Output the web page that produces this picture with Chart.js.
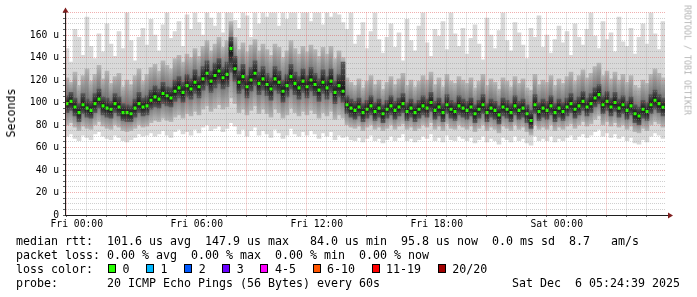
<!DOCTYPE html>
<html>
<head>
<meta charset="utf-8">
<title>median rtt</title>
<script src="https://cdn.jsdelivr.net/npm/chart.js@4.4.1/dist/chart.umd.min.js"></script>
<style>
  html, body { margin: 0; padding: 0; background: #fff; }
  #wrap { position: relative; width: 697px; height: 297px; overflow: hidden; background: #fff; }
  #chart { position: absolute; left: 0; top: 0; }
  .txt {
    position: absolute;
    font-family: 'DejaVu Sans Mono', monospace;
    font-size: 11.63px;
    line-height: 14px;
    white-space: pre;
    color: #000;
  }
  .box { position: absolute; width: 6px; height: 7px; border: 1px solid #000; }
  #ylabel { left: 11px; top: 113px; transform: translate(-50%, -50%) rotate(-90deg); }
  #watermark {
    left: 687px; top: 60px; font-size: 8.3px; line-height: 9px; color: #b4b4b4;
    transform: translate(-50%, -50%) rotate(90deg);
  }
</style>
</head>
<body>
<div id="wrap">
  <canvas id="chart" width="697" height="297"></canvas>
  <div class="txt" id="ylabel">Seconds</div>
  <div class="txt" id="watermark">RRDTOOL / TOBI OETIKER</div>
  <div id="footer"></div>
</div>
<script>
// --- datos (microsegundos), una columna cada 12 minutos ---
const startHour = -0.589;   // Thu 23:24:39 relative to Fri 00:00
const stepHours = 0.2;

const median = [
  99, 101, 96, 91, 98, 95, 93, 99, 103, 97,
  95, 94, 99, 96, 91, 91, 90, 95, 99, 96,
  97, 102, 105, 103, 108, 106, 104, 110, 113, 109,
  115, 112, 118, 114, 121, 126, 119, 124, 128, 122,
  125, 147.9, 130, 118, 123, 114, 120, 126, 117, 121,
  116, 112, 121, 118, 110, 115, 123, 117, 113, 119,
  114, 120, 116, 111, 118, 113, 119, 109, 115, 110,
  98, 95, 93, 96, 91, 94, 97, 92, 95, 90,
  94, 97, 93, 96, 99, 92, 95, 91, 94, 97,
  95, 100, 93, 96, 91, 98, 94, 92, 97, 95,
  93, 96, 90, 94, 98, 91, 95, 93, 89, 96,
  94, 91, 97, 93, 95, 90, 84, 98, 92, 95,
  93, 97, 91, 95, 92, 96, 99, 94, 97, 101,
  96, 99, 104, 107, 98, 101, 96, 100, 95, 98,
  93, 97, 90, 88, 94, 92, 98, 102, 99, 95.8
];

// smoke: outer envelope (fastest / slowest ping)
const rttMin = [
  70, 72, 68, 66, 71, 69, 67, 72, 74, 70,
  68, 67, 71, 69, 66, 65, 67, 69, 72, 70,
  71, 73, 70, 72, 75, 71, 69, 74, 76, 72,
  74, 71, 76, 73, 78, 80, 75, 77, 79, 74,
  77, 82, 79, 72, 76, 70, 75, 78, 71, 75,
  72, 69, 76, 73, 68, 71, 77, 72, 70, 74,
  71, 75, 72, 68, 73, 70, 74, 67, 71, 69,
  70, 67, 66, 69, 65, 68, 71, 66, 68, 64,
  67, 70, 66, 69, 72, 66, 68, 65, 67, 70,
  68, 72, 66, 69, 65, 71, 67, 66, 70, 68,
  66, 69, 64, 67, 70, 65, 68, 66, 63, 69,
  67, 65, 70, 66, 68, 64, 62, 70, 66, 68,
  66, 70, 65, 68, 66, 69, 71, 67, 70, 72,
  69, 71, 74, 76, 70, 73, 69, 72, 68, 70,
  66, 69, 64, 63, 67, 65, 70, 73, 71, 68
];
const rttMax = [
  148, 136, 165, 158, 142, 176, 150, 139, 161, 145,
  170, 152, 141, 163, 148, 180, 155, 137, 158, 166,
  151, 174, 160, 146, 169, 180, 157, 163, 172, 150,
  178, 165, 180, 171, 160, 180, 175, 168, 180, 162,
  180, 180, 173, 166, 180, 177, 158, 180, 170, 180,
  176, 180, 180, 168, 180, 174, 180, 180, 165, 180,
  180, 172, 180, 180, 169, 180, 176, 180, 178, 171,
  165, 180, 152, 160, 171, 148, 163, 180, 156, 144,
  158, 170, 149, 162, 137, 174, 155, 146, 168, 180,
  153, 141, 165, 159, 172, 147, 180, 161, 150, 166,
  143, 157, 169, 152, 138, 175, 160, 148, 164, 180,
  155, 146, 171, 162, 151, 139, 166, 158, 177, 149,
  160, 144, 156, 168, 153, 163, 142, 170, 158, 151,
  165, 180, 159, 148, 172, 156, 162, 145, 176, 154,
  150, 166, 143, 158, 170, 152, 180, 161, 147, 172
];

// smoke: middle band
const rttLo = [
  80, 82, 78, 75, 79, 77, 76, 80, 83, 79,
  77, 76, 80, 78, 75, 74, 75, 77, 80, 78,
  79, 82, 84, 83, 86, 84, 83, 87, 89, 86,
  90, 88, 92, 89, 94, 97, 92, 95, 98, 94,
  96, 104, 99, 91, 94, 89, 93, 97, 90, 94,
  90, 87, 94, 91, 86, 89, 95, 91, 88, 92,
  89, 93, 90, 86, 91, 88, 92, 85, 89, 86,
  80, 78, 77, 79, 75, 78, 80, 76, 78, 75,
  77, 80, 76, 79, 81, 76, 78, 75, 77, 80,
  78, 82, 76, 79, 75, 81, 77, 76, 80, 78,
  76, 79, 74, 77, 80, 75, 78, 76, 73, 79,
  77, 75, 80, 76, 78, 74, 71, 80, 76, 78,
  76, 80, 75, 78, 76, 79, 81, 77, 80, 83,
  79, 81, 85, 88, 80, 83, 79, 82, 78, 80,
  76, 79, 74, 73, 77, 75, 80, 83, 81, 78
];
const rttHi = [
  122, 118, 127, 115, 124, 130, 119, 125, 133, 121,
  128, 117, 123, 126, 114, 120, 116, 124, 130, 119,
  125, 131, 134, 128, 137, 133, 130, 139, 142, 136,
  143, 140, 148, 141, 150, 155, 146, 152, 158, 149,
  155, 172, 158, 147, 153, 145, 151, 156, 146, 152,
  147, 142, 152, 149, 140, 146, 155, 148, 143, 150,
  145, 151, 147, 141, 149, 143, 150, 139, 146, 140,
  122, 118, 115, 121, 113, 119, 124, 116, 120, 112,
  118, 123, 116, 121, 126, 115, 120, 114, 119, 124,
  120, 127, 116, 122, 114, 125, 119, 117, 123, 120,
  117, 122, 113, 119, 125, 115, 121, 118, 112, 122,
  119, 114, 123, 117, 121, 113, 111, 125, 116, 120,
  118, 124, 115, 121, 117, 123, 127, 119, 124, 129,
  122, 126, 132, 135, 124, 128, 121, 127, 120, 125,
  118, 124, 115, 113, 120, 117, 125, 130, 126, 122
];

// smoke: dark core around the median
const coreLo = [
  91, 93, 88, 83, 90, 87, 86, 91, 95, 89,
  87, 86, 91, 88, 84, 83, 83, 87, 91, 88,
  89, 94, 96, 95, 99, 97, 96, 101, 104, 100,
  105, 103, 108, 104, 111, 115, 109, 113, 117, 112,
  114, 127, 119, 108, 112, 104, 110, 115, 107, 111,
  106, 102, 111, 108, 100, 105, 112, 107, 103, 109,
  104, 110, 106, 101, 108, 103, 109, 99, 105, 100,
  90, 87, 85, 88, 83, 86, 89, 84, 87, 82,
  86, 89, 85, 88, 91, 84, 87, 83, 86, 89,
  87, 92, 85, 88, 83, 90, 86, 84, 89, 87,
  85, 88, 82, 86, 90, 83, 87, 85, 81, 88,
  86, 83, 89, 85, 87, 82, 77, 90, 84, 87,
  85, 89, 83, 87, 84, 88, 91, 86, 89, 93,
  88, 91, 96, 99, 90, 93, 88, 92, 87, 90,
  85, 89, 82, 80, 86, 84, 90, 94, 91, 88
];
const coreHi = [
  106, 109, 104, 99, 108, 103, 101, 108, 112, 105,
  104, 101, 108, 105, 99, 98, 97, 103, 109, 104,
  106, 111, 115, 112, 118, 114, 113, 120, 123, 118,
  125, 121, 129, 123, 132, 137, 128, 135, 139, 131,
  136, 158, 141, 128, 134, 124, 131, 137, 127, 132,
  126, 122, 132, 128, 120, 125, 134, 127, 123, 130,
  124, 131, 126, 121, 129, 123, 130, 119, 125, 136,
  106, 103, 101, 104, 99, 102, 106, 100, 103, 98,
  102, 106, 101, 104, 108, 100, 103, 99, 102, 106,
  103, 109, 101, 104, 99, 107, 102, 100, 106, 103,
  101, 104, 98, 102, 107, 99, 103, 101, 97, 104,
  102, 99, 106, 101, 103, 98, 93, 107, 100, 103,
  101, 106, 99, 103, 100, 104, 108, 102, 105, 110,
  104, 108, 113, 116, 106, 110, 104, 109, 103, 106,
  101, 105, 98, 96, 102, 100, 107, 111, 107, 104
];

// ejes
const yTickLabels = ['0', '20 u', '40 u', '60 u', '80 u', '100 u', '120 u', '140 u', '160 u'];
const xTickLabels = ['Fri 00:00', 'Fri 06:00', 'Fri 12:00', 'Fri 18:00', 'Sat 00:00'];

// leyenda
const lossLabels = ['0', '1', '2', '3', '4-5', '6-10', '11-19', '20/20'];
const lossColors = ['#26ff00', '#00b8ff', '#0059ff', '#6a00ff', '#ff00ff', '#ff5500', '#ff0000', '#a10000'];
const statLines = [
  'median rtt:  101.6 us avg  147.9 us max   84.0 us min  95.8 us now  0.0 ms sd  8.7   am/s',
  'packet loss: 0.00 % avg  0.00 % max  0.00 % min  0.00 % now',
  'loss color:',
  'probe:       20 ICMP Echo Pings (56 Bytes) every 60s'
];
const stampText = 'Sat Dec  6 05:24:39 2025';

// --- construcción ---
const times = median.map((_, i) => startHour + stepHours * (i + 0.5));
const band = (lo, hi) => times.map((t, i) => ({ x: t, y: [lo[i], hi[i]] }));
const medianHalf = 1.4;

const gridMinor = 'rgba(143, 143, 143, 0.42)';
const gridMajor = 'rgba(222, 79, 79, 0.45)';
const tickFont = { family: 'DejaVu Sans Mono', size: 9.7 };

// humo: degradado vertical por barra, más oscuro en la mediana
function smokeFill(edge, centre) {
  return (c) => {
    const raw = c.raw;
    const ys = c.chart.scales.y;
    if (!raw || !ys || !isFinite(ys.top)) return edge;
    const top = ys.getPixelForValue(raw.y[1]);
    const bot = ys.getPixelForValue(raw.y[0]);
    if (!(bot - top > 1)) return centre;
    const mid = ys.getPixelForValue(median[c.dataIndex]);
    const f = Math.min(0.95, Math.max(0.05, (mid - top) / (bot - top)));
    const g = c.chart.ctx.createLinearGradient(0, top, 0, bot);
    g.addColorStop(0, edge);
    g.addColorStop(f, centre);
    g.addColorStop(1, edge);
    return g;
  };
}

// ticks fijos: una línea por hora / cada 5 u
const hourTicks = [];
for (let h = 0; h < 30; h++) hourTicks.push({ value: h });
const valueTicks = [];
for (let v = 0; v <= 180; v += 5) valueTicks.push({ value: v });

const axisArrows = {
  id: 'axisArrows',
  afterDraw(chart) {
    const { ctx, chartArea: a } = chart;
    const yb = Math.round(a.bottom) + 0.5;
    const xl = Math.round(a.left) + 0.5;
    ctx.save();
    ctx.strokeStyle = '#1f1f1f';
    ctx.lineWidth = 1;
    ctx.beginPath();
    ctx.moveTo(a.right, yb);
    ctx.lineTo(a.right + 4, yb);
    ctx.moveTo(xl, a.top);
    ctx.lineTo(xl, a.top - 4);
    ctx.stroke();
    ctx.fillStyle = '#801f1f';
    ctx.beginPath();
    ctx.moveTo(a.right + 3, yb - 3);
    ctx.lineTo(a.right + 3, yb + 3);
    ctx.lineTo(a.right + 8, yb);
    ctx.closePath();
    ctx.fill();
    ctx.beginPath();
    ctx.moveTo(xl - 3, a.top);
    ctx.lineTo(xl + 3, a.top);
    ctx.lineTo(xl, a.top - 5);
    ctx.closePath();
    ctx.fill();
    ctx.restore();
  }
};

new Chart(document.getElementById('chart'), {
  type: 'bar',
  data: {
    datasets: [
      {
        label: 'median',
        order: 0,
        data: times.map((t, i) => ({ x: t, y: [median[i] - medianHalf, median[i] + medianHalf] })),
        backgroundColor: lossColors[0],
        barPercentage: 0.75
      },
      { label: 'core', order: 1, data: band(coreLo, coreHi), backgroundColor: smokeFill('#5a5a5a', '#121212') },
      { label: 'lo/hi', order: 2, data: band(rttLo, rttHi), backgroundColor: smokeFill('#b8b8b8', '#555555') },
      { label: 'min/max', order: 3, data: band(rttMin, rttMax), backgroundColor: '#d9d9d9' }
    ]
  },
  options: {
    responsive: false,
    animation: false,
    events: [],
    layout: { padding: { top: 12.5, right: 32, left: 0, bottom: 0 } },
    datasets: { bar: { grouped: false, barPercentage: 1, categoryPercentage: 1, borderWidth: 0 } },
    plugins: { legend: { display: false }, tooltip: { enabled: false } },
    scales: {
      x: {
        type: 'linear',
        min: startHour,
        max: startHour + 30,
        offset: false,
        afterFit: (scale) => { scale.height = 82; },
        afterBuildTicks: (scale) => { scale.ticks = hourTicks.map(t => ({ value: t.value })); },
        grid: {
          z: 1,
          color: (c) => (c.tick && c.tick.value % 3 === 0 ? gridMajor : gridMinor),
          tickColor: '#666',
          tickLength: 2,
          lineWidth: 1
        },
        border: { z: 2, display: true, color: '#1f1f1f', width: 1, dash: [1, 1] },
        ticks: {
          z: 2,
          autoSkip: false,
          maxRotation: 0,
          minRotation: 0,
          padding: 2,
          color: '#000',
          font: tickFont,
          callback: (v) => (v % 6 === 0 ? (xTickLabels[v / 6] || '') : '')
        }
      },
      y: {
        min: 0,
        max: 180,
        afterFit: (scale) => { scale.width = 65; },
        afterBuildTicks: (scale) => { scale.ticks = valueTicks.map(t => ({ value: t.value })); },
        grid: {
          z: 1,
          color: (c) => (c.tick && c.tick.value % 20 === 0 ? gridMajor : gridMinor),
          tickColor: '#666',
          tickLength: 2,
          lineWidth: 1
        },
        border: { z: 2, display: true, color: '#1f1f1f', width: 1, dash: [1, 1] },
        ticks: {
          z: 2,
          autoSkip: false,
          padding: 4,
          color: '#000',
          font: tickFont,
          callback: (v) => (v % 20 === 0 ? (yTickLabels[v / 20] || '') : '')
        }
      }
    }
  },
  plugins: [axisArrows]
});

// pie de la gráfica
const footer = document.getElementById('footer');
const charW = 7;
statLines.forEach((line, i) => {
  const d = document.createElement('div');
  d.className = 'txt';
  d.style.left = '16px';
  d.style.top = (234 + i * 14) + 'px';
  d.textContent = line;
  footer.appendChild(d);
});
let cur = 16 + 13 * charW;
lossLabels.forEach((lab, i) => {
  const b = document.createElement('div');
  b.className = 'box';
  b.style.left = (cur + 1) + 'px';
  b.style.top = '264px';
  b.style.background = lossColors[i];
  footer.appendChild(b);
  const t = document.createElement('div');
  t.className = 'txt';
  t.style.left = (cur + 15.5) + 'px';
  t.style.top = '262px';
  t.textContent = lab;
  footer.appendChild(t);
  cur = cur + 15.5 + lab.length * charW + 15.6;
});
const stamp = document.createElement('div');
stamp.className = 'txt';
stamp.style.left = (680 - stampText.length * charW) + 'px';
stamp.style.top = (234 + 3 * 14) + 'px';
stamp.textContent = stampText;
footer.appendChild(stamp);
</script>
</body>
</html>
